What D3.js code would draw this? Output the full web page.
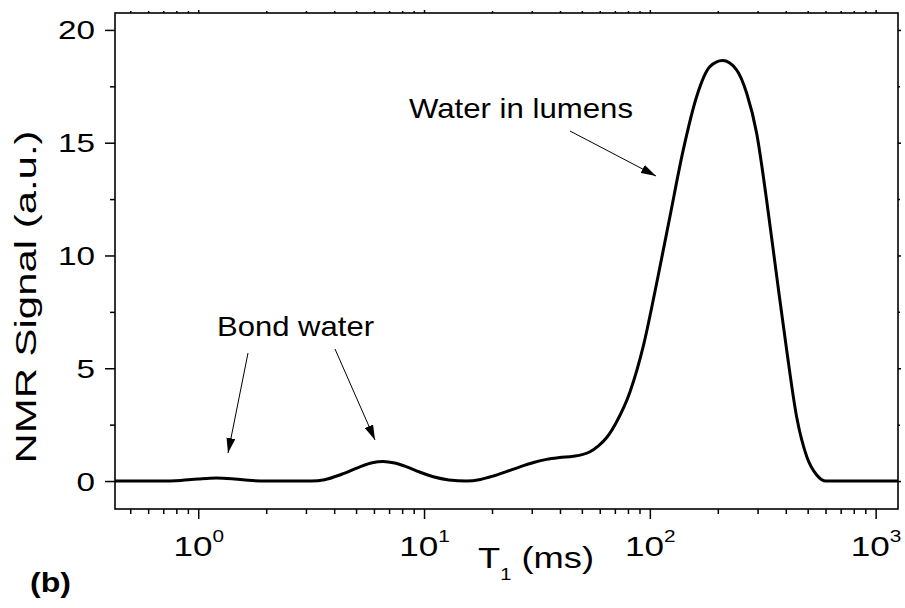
<html>
<head>
<script src="https://d3js.org/d3.v7.min.js"></script>
<style>
  body { margin: 0; background: #fff; }
  text { font-family: "Liberation Sans", Arial, Helvetica, sans-serif; fill: #000; }
  .tick line { stroke: #000; stroke-width: 1.5; }
</style>
</head>
<body>
<svg id="chart" width="905" height="608"></svg>
<script>
// T1 relaxation times (ms) and NMR signal (a.u.)
var t1 = [0.428, 0.708, 0.794, 1.0, 1.202, 1.445, 1.738, 1.995, 3.162, 3.631,
  4.315, 5.2, 5.888, 6.592, 7.413, 8.375, 9.55, 10.99, 12.88, 15.45,
  17.78, 20.23, 23.17, 26.61, 30.55, 34.91, 39.81, 45.81, 50.12, 54.33,
  59.02, 64.57, 71.29, 81.66, 93.54, 107.2, 122.7, 140.6, 161.1, 184.5,
  209.9, 242.1, 268.5, 297.2, 328.9, 364.8, 403.6, 446.7, 495.5, 548.3,
  602.6, 1256];
var signal = [0, 0, 0.01, 0.09, 0.13, 0.09, 0.02, 0, 0, 0.06,
  0.3, 0.63, 0.81, 0.87, 0.8, 0.63, 0.4, 0.19, 0.05, 0,
  0.07, 0.22, 0.42, 0.63, 0.82, 0.96, 1.04, 1.1, 1.17, 1.3,
  1.55, 1.94, 2.63, 3.95, 5.98, 8.77, 11.72, 14.68, 17.04, 18.37,
  18.64, 18.23, 17.19, 15.42, 12.46, 9.06, 5.81, 2.85, 1.08, 0.27,
  0, 0];

var xMajor = [1, 10, 100, 1000];
var yMajor = [0, 5, 10, 15, 20];
var yMinor = [2.5, 7.5, 12.5, 17.5];

// annotation texts, with arrows given as [start, tip] in pixels
var notes = [
  { text: "Water in lumens", x: 409, y: 118, len: 224,
    arrows: [[[570, 131], [656, 176]]] },
  { text: "Bond water", x: 217, y: 336, len: 157,
    arrows: [[[248, 353], [228, 453]], [[335, 349], [375, 440]]] }
];

var svg = d3.select("#chart");
var m = { left: 115, right: 898, top: 13, bottom: 509 };

var x = d3.scaleLog().domain([0.428, 1256]).range([m.left, m.right]);
var y = d3.scaleLinear().domain([-1.24, 20.75]).range([m.bottom, m.top]);

var xMinor = x.ticks().filter(function(d) { return xMajor.indexOf(d) < 0; });

var sx = 1.3; // the reference text is drawn wide

function noDomain(g) { g.select(".domain").remove(); }

// bottom axis
svg.append("g").attr("transform", "translate(0," + m.bottom + ")")
  .call(d3.axisBottom(x).tickValues(xMinor).tickSize(5).tickFormat(""))
  .call(noDomain);

var gx = svg.append("g").attr("transform", "translate(0," + m.bottom + ")")
  .call(d3.axisBottom(x).tickValues(xMajor).tickSize(10).tickFormat(""))
  .call(noDomain);

gx.selectAll(".tick").each(function(d) {
  var t = d3.select(this).select("text")
    .attr("y", null).attr("dy", null)
    .attr("transform", "translate(0,46.7) scale(" + sx + ",1)")
    .attr("text-anchor", "middle")
    .style("font-size", "27px");
  t.text("10");
  t.append("tspan").attr("dy", -14).style("font-size", "16px")
    .text(Math.round(Math.log10(d)));
});

// top and right mirror ticks
svg.append("g").attr("transform", "translate(0," + m.top + ")")
  .call(d3.axisTop(x).tickValues(xMajor).tickSize(3).tickFormat(""))
  .call(noDomain);
svg.append("g").attr("transform", "translate(0," + m.top + ")")
  .call(d3.axisTop(x).tickValues(xMinor).tickSize(2).tickFormat(""))
  .call(noDomain);
svg.append("g").attr("transform", "translate(" + m.right + ",0)")
  .call(d3.axisRight(y).tickValues(yMajor).tickSize(3).tickFormat(""))
  .call(noDomain);
svg.append("g").attr("transform", "translate(" + m.right + ",0)")
  .call(d3.axisRight(y).tickValues(yMinor).tickSize(2).tickFormat(""))
  .call(noDomain);

// left axis
svg.append("g").attr("transform", "translate(" + m.left + ",0)")
  .call(d3.axisLeft(y).tickValues(yMinor).tickSize(5).tickFormat(""))
  .call(noDomain);

svg.append("g").attr("transform", "translate(" + m.left + ",0)")
  .call(d3.axisLeft(y).tickValues(yMajor).tickSize(10).tickFormat(d3.format("d")))
  .call(noDomain)
  .call(function(g) {
    g.selectAll("text")
      .attr("x", -20).attr("dy", "0.36em")
      .attr("text-anchor", "end")
      .attr("fill", "#000")
      .attr("textLength", function(d) { return String(d).length * 18.5; })
      .attr("lengthAdjust", "spacingAndGlyphs")
      .style("font-size", "25px");
  });

// frame
svg.append("rect")
  .attr("x", m.left).attr("y", m.top)
  .attr("width", m.right - m.left).attr("height", m.bottom - m.top)
  .attr("fill", "none").attr("stroke", "#000").attr("stroke-width", 1.6);

// curve
var line = d3.line()
  .x(function(d, i) { return x(t1[i]); })
  .y(function(d) { return y(d); })
  .curve(d3.curveMonotoneX);

svg.append("path")
  .datum(signal)
  .attr("d", line)
  .attr("fill", "none")
  .attr("stroke", "#000")
  .attr("stroke-width", 3)
  .attr("stroke-linejoin", "round");

// arrows
svg.append("defs").append("marker")
  .attr("id", "head")
  .attr("viewBox", "0 0 15 9")
  .attr("refX", 15).attr("refY", 4.5)
  .attr("markerWidth", 15).attr("markerHeight", 9)
  .attr("markerUnits", "userSpaceOnUse")
  .attr("orient", "auto")
  .append("path").attr("d", "M0,0L15,4.5L0,9Z").attr("fill", "#000");

notes.forEach(function(n) {
  svg.append("text")
    .attr("x", n.x).attr("y", n.y)
    .attr("textLength", n.len).attr("lengthAdjust", "spacingAndGlyphs")
    .style("font-size", "28px")
    .text(n.text);
  n.arrows.forEach(function(a) {
    svg.append("line")
      .attr("x1", a[0][0]).attr("y1", a[0][1])
      .attr("x2", a[1][0]).attr("y2", a[1][1])
      .attr("stroke", "#000").attr("stroke-width", 1)
      .attr("marker-end", "url(#head)");
  });
});

// axis titles
svg.append("text")
  .attr("transform", "translate(36,297) rotate(-90)")
  .attr("text-anchor", "middle")
  .attr("textLength", 333).attr("lengthAdjust", "spacingAndGlyphs")
  .style("font-size", "29px")
  .text("NMR Signal (a.u.)");

var xt = svg.append("text")
  .attr("x", 478).attr("y", 568)
  .attr("textLength", 116).attr("lengthAdjust", "spacingAndGlyphs")
  .style("font-size", "29px");
xt.append("tspan").text("T");
xt.append("tspan").attr("dy", 12).style("font-size", "16px").text("1");
xt.append("tspan").attr("dy", -12).text(" (ms)");

svg.append("text")
  .attr("x", 30).attr("y", 592)
  .attr("textLength", 41).attr("lengthAdjust", "spacingAndGlyphs")
  .style("font-size", "27px").style("font-weight", "bold")
  .text("(b)");
</script>
</body>
</html>
